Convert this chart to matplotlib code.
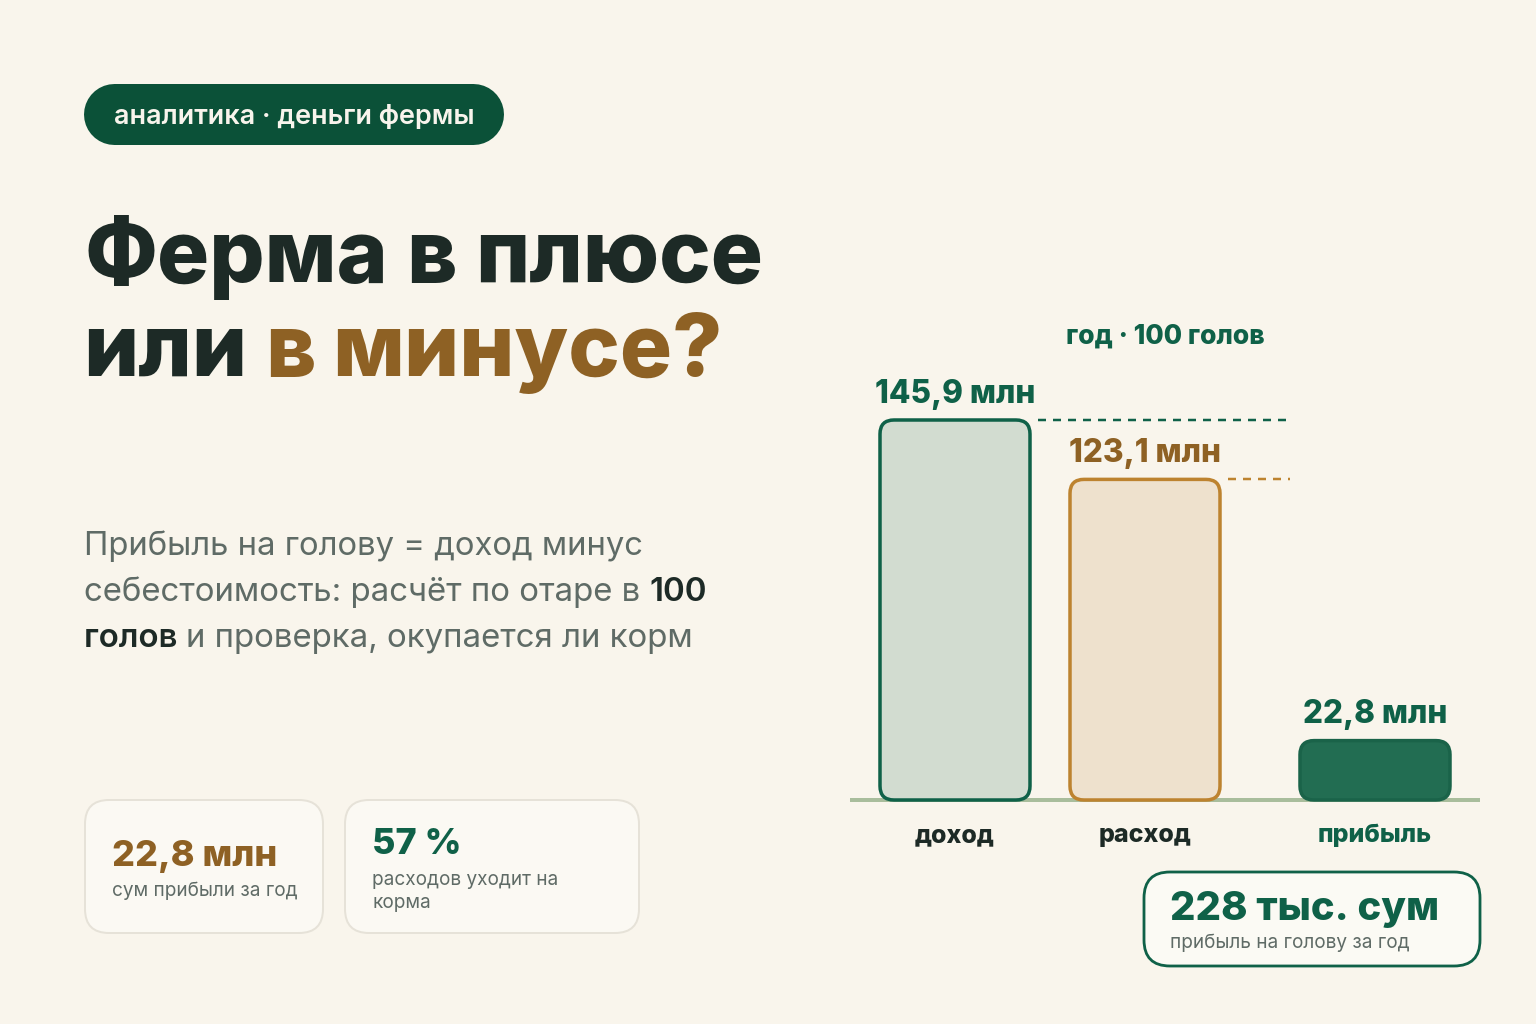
#!/usr/bin/env python3
import matplotlib
matplotlib.use('Agg')
import matplotlib.pyplot as plt
from matplotlib.patches import FancyBboxPatch

plt.rcParams['font.family'] = ['Inter', 'DejaVu Sans']

# data
categories = ['доход', 'расход', 'прибыль']
values = [145.9, 123.1, 22.8]
value_labels = ['145,9 млн', '123,1 млн', '22,8 млн']

# colours
BG = '#F9F5EC'
GREEN = '#0F6148'
DARK_GREEN = '#0B5138'
BROWN = '#8E6124'
ORANGE = '#BD832F'
INK = '#1D2A26'
GRAY = '#5F6B66'

W, H = 1536, 1024
PX_PER_MLN = 380 / 145.9
BASE_Y = 800


def fs(px):
    # font size in points from a size in pixels
    return px * 0.72


def rounded(ax, x0, y0, x1, y1, r, fc, ec, lw, aspect=1.0, z=2):
    patch = FancyBboxPatch((x0, y0), x1 - x0, y1 - y0,
                           boxstyle=f'round,pad=0,rounding_size={r}',
                           mutation_aspect=aspect, fc=fc, ec=ec,
                           lw=lw * 0.72, zorder=z)
    ax.add_patch(patch)
    return patch


def runs(ax, x, y, parts, size):
    # several coloured / bold pieces on one baseline
    renderer = ax.figure.canvas.get_renderer()
    for txt, color, weight in parts:
        t = ax.text(x, y, txt, fontsize=fs(size), color=color, weight=weight,
                    va='baseline', ha='left')
        x += t.get_window_extent(renderer).width


fig = plt.figure(figsize=(W / 100, H / 100), dpi=100, facecolor=BG)

# page layer in pixel coordinates
page = fig.add_axes([0, 0, 1, 1])
page.set_xlim(0, W)
page.set_ylim(H, 0)
page.axis('off')

# pill
page.plot([113.5, 472.5], [113.5, 113.5], color=DARK_GREEN, lw=61 * 0.72,
          solid_capstyle='round', zorder=2)
page.text(114, 124, 'аналитика · деньги фермы', fontsize=fs(27), color='#F8F4EC',
          weight='semibold', va='baseline', zorder=3)

# headline, word by word because the original is set tighter than the font
for word, x, y, color in [('Ферма', 84, 282, INK), ('в', 406, 282, INK), ('плюсе', 475, 282, INK),
                          ('или', 83, 376, INK), ('в', 265, 376, BROWN), ('минусе?', 332, 376, BROWN)]:
    page.text(x, y, word, fontsize=fs(87), color=color, weight=800, va='baseline')

# body text
runs(page, 84, 555, [('Прибыль на голову = доход минус', GRAY, 'normal')], 32.8)
runs(page, 84, 601, [('себестоимость: расчёт по отаре в ', GRAY, 'normal'),
                     ('100', INK, 'semibold')], 33)
runs(page, 84, 647, [('голов ', INK, 'semibold'),
                     ('и проверка, окупается ли корм', GRAY, 'normal')], 33)

# stat cards
rounded(page, 85, 800, 323, 933, 24, '#FBF9F3', '#E6E2D8', 2)
page.text(112, 866, '22,8 млн', fontsize=fs(36), color=BROWN, weight=800, va='baseline')
page.text(112, 896, 'сум прибыли за год', fontsize=fs(19), color=GRAY, va='baseline')

rounded(page, 345, 800, 639, 933, 24, '#FBF9F3', '#E6E2D8', 2)
page.text(372, 854, '57 %', fontsize=fs(36), color=GREEN, weight=800, va='baseline')
page.text(372, 885, 'расходов уходит на', fontsize=fs(19), color=GRAY, va='baseline')
page.text(372, 908, 'корма', fontsize=fs(19), color=GRAY, va='baseline')

# bar chart: x axis in pixels, y axis in millions
chart_left, chart_right = 850, 1480
chart_top = 300
chart = fig.add_axes([chart_left / W, 1 - BASE_Y / H,
                      (chart_right - chart_left) / W, (BASE_Y - chart_top) / H])
chart.set_xlim(chart_left, chart_right)
chart.set_ylim(0, (BASE_Y - chart_top) / PX_PER_MLN)
chart.axis('off')
chart.patch.set_alpha(0)

bar_centers = [955, 1145, 1375]
bar_width = 150
bar_fill = ['#D2DCD0', '#EEE1CD', '#226D52']
bar_edge = [GREEN, ORANGE, '#1A6349']
label_color = [GREEN, BROWN, GREEN]
cat_color = [INK, INK, GREEN]
label_offset = [17, 17, 18]

chart.axhline(0, color='#A9BD9C', lw=4 * 0.72, zorder=1, clip_on=False, solid_capstyle='butt')

bars = chart.bar(bar_centers, values, width=bar_width, color='none', edgecolor='none')
for i, rect in enumerate(bars):
    p = rounded(chart, rect.get_x(), rect.get_y(), rect.get_x() + rect.get_width(), rect.get_height(),
                14, bar_fill[i], bar_edge[i], 3.5, aspect=1 / PX_PER_MLN, z=3)
    p.set_clip_on(False)
    chart.annotate(value_labels[i], (bar_centers[i], values[i]), xytext=(0, label_offset[i] * 0.72),
                   textcoords='offset points', ha='center', va='baseline',
                   fontsize=fs(31.5), color=label_color[i], weight=800)
    chart.annotate(categories[i], (bar_centers[i], 0), xytext=(0, -42 * 0.72),
                   textcoords='offset points', ha='center', va='baseline',
                   fontsize=fs(25), color=cat_color[i], weight=800, annotation_clip=False)

# dashed guides from the top of the first two bars
chart.plot([1038, 1290], [values[0], values[0]], color=GREEN, lw=2.5 * 0.72,
           linestyle=(0, (3.2, 2.8)), zorder=2)
chart.plot([1228, 1290], [values[1], values[1]], color=ORANGE, lw=2.5 * 0.72,
           linestyle=(0, (3.2, 2.8)), zorder=2)

page.text(1165, 344, 'год · 100 голов', fontsize=fs(26.5), color=GREEN, weight=800,
          ha='center', va='baseline')

# per-head callout
rounded(page, 1144, 872, 1480, 966, 26, '#FBFAF4', GREEN, 2.8)
page.text(1170, 920, '228 тыс. сум', fontsize=fs(40), color=GREEN, weight=800, va='baseline')
page.text(1170, 948, 'прибыль на голову за год', fontsize=fs(19), color=GRAY, va='baseline')

fig.savefig('out.png', dpi=100, facecolor=BG)
